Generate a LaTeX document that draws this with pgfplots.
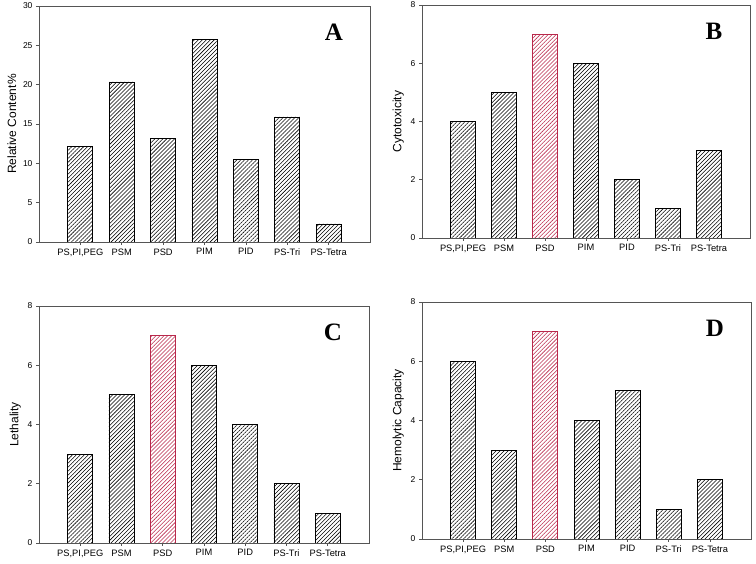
\documentclass[border=0pt]{standalone}
\usepackage{pgfplots}
\pgfplotsset{compat=1.18}
\usetikzlibrary{patterns.meta}
\usepackage{fontspec}
\setmainfont{Liberation Sans}
\newfontfamily\serifb{Liberation Serif}
\definecolor{redbar}{RGB}{185,40,75}
\definecolor{frame}{RGB}{85,85,85}
\tikzset{letter/.style={font=\serifb\bfseries\fontsize{25}{25}\selectfont, xshift=-36pt, yshift=-26pt}}
\pgfplotsset{
 panel/.style={
  scale only axis, ybar, bar width=25pt, bar shift=0pt,
  xmin=-1, xmax=7, xtick={0,...,6},
  xticklabels={{PS,PI,PEG},PSM,PSD,PIM,PID,PS-Tri,PS-Tetra},
  ymin=0, axis line style={line width=0.8pt, draw=frame},
  tick style={frame, line width=0.6pt}, tick align=outside,
  ytick pos=left, xtick pos=bottom, major tick length=3pt,
  /pgf/number format/assume math mode=true,
  yticklabel style={font=\fontsize{8.5}{10}\selectfont},
  xticklabel style={font=\fontsize{9.3}{11}\selectfont},
  ylabel style={font=\fontsize{12}{14}\selectfont},
 },
 hb/.style={draw=black, line width=0.8pt, pattern={Lines[angle=45, distance=2.8pt, line width=0.55pt]}, pattern color=black},
 rb/.style={draw=redbar, line width=0.8pt, pattern={Lines[angle=45, distance=2.8pt, line width=0.55pt]}, pattern color=redbar},
}
\begin{document}
\begin{tikzpicture}
\useasboundingbox (0,0) rectangle (756pt,563pt);
% Panel A
\begin{axis}[panel, at={(39pt,321pt)}, width=331pt, height=236pt,
  ymax=30, ytick={0,5,...,30}, ylabel={Relative Content\%}]
\addplot[hb] coordinates {(0,12.1) (1,20.35) (2,13.15) (3,25.7) (4,10.5) (5,15.9) (6,2.3)};
\node[letter] at (rel axis cs:1,1) {A};
\end{axis}
% Panel B
\begin{axis}[panel, at={(422pt,325pt)}, width=328pt, height=233pt,
  ymax=8, ytick={0,2,...,8}, ylabel={Cytotoxicity}]
\addplot[hb] coordinates {(0,4) (1,5) (3,6) (4,2) (5,1) (6,3)};
\addplot[rb] coordinates {(2,7)};
\node[letter] at (rel axis cs:1,1) {B};
\end{axis}
% Panel C
\begin{axis}[panel, at={(39pt,20pt)}, width=330pt, height=237pt,
  ymax=8, ytick={0,2,...,8}, ylabel={Lethality}]
\addplot[hb] coordinates {(0,3) (1,5) (3,6) (4,4) (5,2) (6,1)};
\addplot[rb] coordinates {(2,7)};
\node[letter] at (rel axis cs:1,1) {C};
\end{axis}
% Panel D
\begin{axis}[panel, at={(422pt,24pt)}, width=329pt, height=237pt,
  ymax=8, ytick={0,2,...,8}, ylabel={Hemolytic Capacity}]
\addplot[hb] coordinates {(0,6) (1,3) (3,4) (4,5) (5,1) (6,2)};
\addplot[rb] coordinates {(2,7)};
\node[letter] at (rel axis cs:1,1) {D};
\end{axis}
\end{tikzpicture}
\end{document}
